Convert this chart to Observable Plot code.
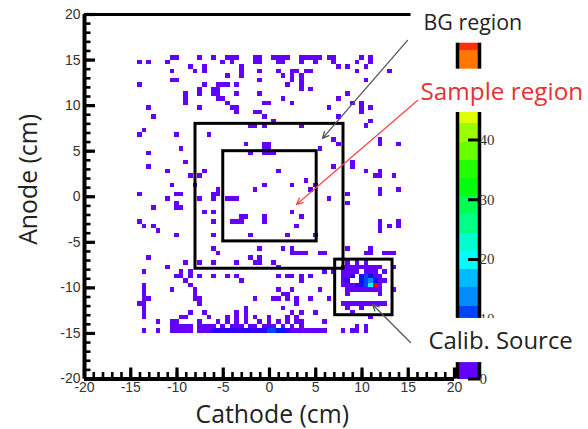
<!DOCTYPE html>
<html><head><meta charset="utf-8">
<script src="https://cdn.jsdelivr.net/npm/d3@7"></script>
<script src="https://cdn.jsdelivr.net/npm/@observablehq/plot@0.6"></script>
<style>
html,body{margin:0;padding:0;background:#fff;}
#wrap{position:relative;width:588px;height:429px;overflow:hidden;background:#fff;}
#wrap svg{position:absolute;left:0;top:0;}
</style>
</head><body><div id="wrap"></div>
<script>
// ---------- data ----------
const binSize = 0.5;                 // cm per detector bin
const zMax = 61;                     // top of colour bar
const nLevels = 20;                  // colour contours
const paletteColors = ["#6300ff","#3300ff","#0014ff","#0044ff","#008bff","#00bbff","#00fffc","#00ffcc","#00ff85","#00ff55",
                       "#00ff0e","#22ff00","#69ff00","#99ff00","#e0ff00","#ffee00","#ffa700","#ff7700","#ff3000","#ff0000"];
const axisTicks = [-20,-15,-10,-5,0,5,10,15,20];
const minorTicks = d3.range(-20, 21, 1);
const colorbarTicks = [0,10,20,30,40];

// rows of hit bins: [row index, [column indices]]  (1 count unless listed in hotBins)
const hitRows = [
 [31,[-21,-20,-15,-12,-9,-8,-7,-3,-2,1,2,3,4,7,8,9,10,11,13,14,20,22]],
 [30,[-28,-26,-22,-10,-8,-3,-2,2,3,7,10,14,19,22]],
 [29,[-17,-14,-6,15,17,21]],
 [28,[-21,-16,-14,-6,-2,2,5,6,8,9,19,26]],
 [27,[-9,-6,3,5,7]],
 [26,[-21,-20,-2,5,7,21]],
 [25,[-28,-14,-11,-10,-9,-7,4,7]],
 [24,[-15,-12,-11,7,9]],
 [23,[-18,-15,-12,-11,-7,-2,17]],
 [22,[-18,-11,-10,3,15]],
 [21,[-18,-9,-1,0,5,18,20]],
 [20,[-26,-15,-8,-7,13,20,22]],
 [19,[-7,-3,-2,20]],
 [18,[-25,-1,15]],
 [17,[1,22]],
 [16,[-4,-3,-1,7,21]],
 [15,[-27]],
 [14,[-28,-20,-13]],
 [13,[14,24]],
 [12,[-5,-1,0,15,24,28]],
 [11,[-19,-1,0,11]],
 [10,[-26,-4,-1,0,1]],
 [8,[-18,18]],
 [7,[-26,14,18]],
 [6,[-22,-14,2,21,24]],
 [5,[-17,-15,23,24,27]],
 [4,[8]],
 [3,[-21,-16,-1,5,10]],
 [2,[-11,-3,9,24,28]],
 [1,[-28,-20,-19,-12,-11,17,24]],
 [0,[-22,-15,-12,-9,-8,-7,13]],
 [-1,[-20,17]],
 [-2,[-25,-20,-19]],
 [-3,[-14,-12,5]],
 [-4,[-6,-5,-1,7]],
 [-5,[-28,-12,-8,-7,-6,-1,24,28]],
 [-6,[-27,-25,6,24,26,28]],
 [-7,[-24,24]],
 [-8,[-20,-12,-4,4,10]],
 [-11,[-12,-2,3,5,17,22]],
 [-12,[-11,5,6,7,8,11,12,21,22,25,26,27]],
 [-13,[-26,-4,-2]],
 [-14,[-18,-15,-12,-7,-3,-2,1,17,19,21]],
 [-15,[-22,2,16,17,18,19,20,21,22,23,24,27]],
 [-16,[-27,-19,-17,12,14,16,17,18,19,21,22,23,25]],
 [-17,[-20,-19,-17,-15,-12,-9,-7,2,4,5,7,9,16,17,18,20,21,22,23,24]],
 [-18,[-18,-6,7,16,17,20,21,22,23,24,25]],
 [-19,[-27,-17,16,17,18,19,20,21,22,23,24]],
 [-20,[-27,-21,-16,2,5,11,17,18,19,20,21,22,23,24,27]],
 [-21,[-27,-16,3,4,17,24]],
 [-22,[-27,-26,-16,-15,-3,1,2,4,6,9,13]],
 [-23,[-28,-27,-15,6,16,17,18,19,20,21,22,23,24,25]],
 [-24,[-27,-5,3,17,20]],
 [-25,[-27,-17,-14,-7,-5,5,7,10,18]],
 [-26,[-27,-19,-18,-13,-9,-7,-5,-3,0,4,6,22]],
 [-27,[-24,-21,-20,-15,-11,-9,-7,-5,-2,0,2,4,6,7,12]],
 [-28,[-21,-20,-19,-18,-17,-15,-14,-13,-12,-10,-8,-7,-6,-4,-3,-1,0,1,3,5,7,19,21]],
 [-29,[-27,-24,-21,-20,-19,-18,-17,-15,-14,-13,-12,-11,-10,-9,-8,-7,-6,-5,-4,-3,-2,-1,0,1,2,3,4,5,6,7,8,9,10,11,12,16,18,19,21]]
];
// bins with more than one count: [column, row, counts]
const hotBins = [
 [21,-17,11],[22,-17,9],[20,-18,8],[21,-18,12],[22,-18,15],[23,-18,7],[21,-19,10],[22,-19,20],[23,-19,58],
 [17,-18,5],[18,-17,5],[19,-19,5],[20,-17,5],[20,-19,5],
 [-15,-29,2],[-14,-29,2],[-13,-29,2],
 [-12,-29,5],[-11,-29,5],[-10,-29,5],[-9,-29,5],[-8,-29,5],[-7,-29,5],[-6,-29,5],[-5,-29,5],[-4,-29,5],[-3,-29,5],[-2,-29,5],[-1,-29,5],
 [0,-29,10],[1,-29,10],[2,-29,9],[3,-29,7],[4,-29,5],[5,-29,2]
];
// regions drawn on the map (cm)
const regionBoxes = [
 {name: "BG region", x1: -8, x2: 8, y1: -7.9, y2: 8},
 {name: "Sample region", x1: -5, x2: 5.1, y1: -4.9, y2: 5},
 {name: "Calib. Source", x1: 7.1, x2: 13.3, y1: -13, y2: -6.9}
];

// ---------- build table ----------
const counts = new Map();
for (const [r, cols] of hitRows) for (const c of cols) counts.set(c + "," + r, 1);
for (const [c, r, n] of hotBins) counts.set(c + "," + r, n);
const cells = [];
for (const [key, n] of counts) {
  const [c, r] = key.split(",").map(Number);
  cells.push({x1: (c - 0.5) * binSize, x2: (c + 0.5) * binSize, y1: (r - 1) * binSize, y2: r * binSize, n});
}
const step = zMax / nLevels;
const thresholds = d3.range(1, nLevels).map(k => k * step);
const bands = d3.range(nLevels).map(k => ({lo: k * step, hi: (k + 1) * step, mid: (k + 0.5) * step}));
const colorScale = {type: "threshold", domain: thresholds, range: paletteColors};

const W = 588, H = 429;
const frame = {width: W, height: H, marginLeft: 84, marginRight: 134, marginTop: 14, marginBottom: 50.5};
const svgStyle = {background: "transparent", overflow: "visible", fontFamily: "'Liberation Sans', Arial, sans-serif", fontSize: "14px", maxWidth: "none"};
const titleFont = "'Open Sans', Lato, sans-serif";

const main = Plot.plot({
  ...frame,
  x: {domain: [-20, 20]}, y: {domain: [-20, 20]},
  color: colorScale,
  style: svgStyle,
  marks: [
    Plot.rect(cells, {x1: "x1", x2: "x2", y1: "y1", y2: "y2", fill: "n", shapeRendering: "crispEdges"}),
    Plot.rect(regionBoxes, {x1: "x1", x2: "x2", y1: "y1", y2: "y2", fill: "none", stroke: "black", strokeWidth: 3}),
    Plot.axisX({ticks: minorTicks, tickSize: -6.5, strokeWidth: 2.6, fill: "none", label: null}),
    Plot.axisX({ticks: axisTicks, tickSize: -11, strokeWidth: 3.2, fill: "none", label: null}),
    Plot.axisX({ticks: axisTicks, tickSize: 0, tickPadding: 3, tickFormat: d => String(d), fill: "#333", label: null}),
    Plot.axisY({ticks: minorTicks, tickSize: -6.5, strokeWidth: 2.6, fill: "none", label: null}),
    Plot.axisY({ticks: axisTicks, tickSize: -11, strokeWidth: 3.2, fill: "none", label: null}),
    Plot.axisY({ticks: axisTicks, tickSize: 0, tickPadding: 4, tickFormat: d => String(d), fill: "#333", label: null}),
    Plot.ruleX([-20], {stroke: "black", strokeWidth: 4}),
    Plot.ruleY([-20], {stroke: "black", strokeWidth: 4}),
    Plot.ruleY([20], {stroke: "black", strokeWidth: 3}),
    Plot.text(["Cathode (cm)"], {x: 0.3, y: -24, fontSize: 24.8, fontFamily: titleFont, fill: "#222"}),
    Plot.text(["Anode (cm)"], {x: -26, y: 1.9, rotate: -90, fontSize: 24.8, fontFamily: titleFont, fill: "#222"})
  ]
});

const colorbar = Plot.plot({
  width: W, height: H, marginLeft: 457, marginRight: 109, marginTop: 14, marginBottom: 50.5,
  x: {domain: [0, 1], axis: null},
  y: {domain: [0, zMax]},
  color: colorScale,
  style: {...svgStyle, fontFamily: "'Liberation Serif', 'Times New Roman', serif", fontSize: "15px"},
  marks: [
    Plot.rect(bands, {x1: 0, x2: 1, y1: "lo", y2: "hi", fill: "mid", shapeRendering: "crispEdges"}),
    Plot.ruleX([0, 1], {stroke: "black", strokeWidth: 3.5}),
    Plot.axisY({anchor: "right", ticks: colorbarTicks, tickSize: -12, strokeWidth: 3, fill: "none", label: null}),
    Plot.axisY({anchor: "right", ticks: colorbarTicks, tickSize: 0, tickPadding: 0, tickFormat: d => String(d), fill: "#333", label: null})
  ]
});

// annotations (text boxes and arrows, placed in chart cm)
const noteBoxes = [
  {x1: 15.3, x2: 36, y1: 16.85, y2: 22},
  {x1: 15.9, x2: 36, y1: 9.25, y2: 14.0},
  {x1: 16.1, x2: 36, y1: -18.2, y2: -13.35}
];
const noteArrows = [
  {x1: 14.92, y1: 17.16, x2: 5.73, y2: 6.40, color: "#555"},
  {x1: 16.0, y1: 10.57, x2: 2.92, y2: -0.85, color: "#ee4b4b"},
  {x1: 15.24, y1: -15.99, x2: 11.14, y2: -11.82, color: "#555"}
];
const notes = Plot.plot({
  ...frame,
  x: {domain: [-20, 20], axis: null}, y: {domain: [-20, 20], axis: null},
  style: svgStyle,
  marks: [
    Plot.rect(noteBoxes, {x1: "x1", x2: "x2", y1: "y1", y2: "y2", fill: "white"}),
    ...noteArrows.map(a => Plot.arrow([a], {x1: "x1", y1: "y1", x2: "x2", y2: "y2", stroke: a.color, strokeWidth: 1.3, headLength: 8, headAngle: 50})),
    Plot.text(["BG region"], {x: 16.65, y: 19.08, textAnchor: "start", fontSize: 21.4, fontFamily: titleFont, fill: "#222"}),
    Plot.text(["Sample region"], {x: 16.32, y: 11.5, textAnchor: "start", fontSize: 24.3, fontFamily: titleFont, fill: "#e63232"}),
    Plot.text(["Calib. Source"], {x: 17.19, y: -15.83, textAnchor: "start", fontSize: 23.9, fontFamily: titleFont, fill: "#222"})
  ]
});

const wrap = document.getElementById("wrap");
wrap.appendChild(main);
wrap.appendChild(colorbar);
wrap.appendChild(notes);
</script>
</body></html>
